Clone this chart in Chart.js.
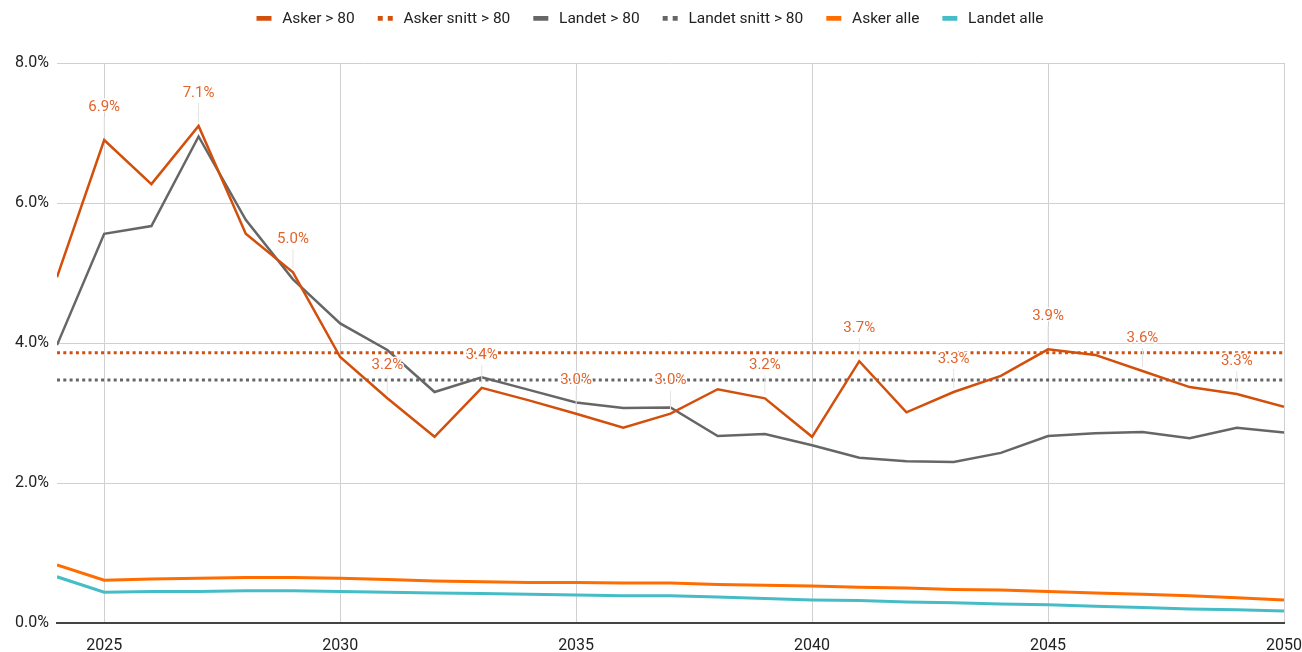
<!DOCTYPE html>
<html>
<head>
<meta charset="utf-8">
<title>Asker &gt; 80</title>
<script src="https://cdn.jsdelivr.net/npm/chart.js@4.4.1/dist/chart.umd.min.js"></script>
<style>
  html, body { margin: 0; padding: 0; background: #fff; }
</style>
</head>
<body>
<canvas id="chart" width="1302" height="652"></canvas>
<script>
// --- DATA (percent) ---
const years = [2024, 2025, 2026, 2027, 2028, 2029, 2030, 2031, 2032, 2033, 2034, 2035, 2036, 2037,
    2038, 2039, 2040, 2041, 2042, 2043, 2044, 2045, 2046, 2047, 2048, 2049, 2050];
const askerOver80 = [4.94, 6.90, 6.27, 7.10, 5.56, 5.01, 3.80, 3.21, 2.66, 3.36, 3.18, 2.99, 2.79, 2.99,
    3.34, 3.21, 2.66, 3.74, 3.01, 3.30, 3.53, 3.91, 3.83, 3.60, 3.37, 3.27, 3.09];
const landetOver80 = [3.97, 5.56, 5.67, 6.95, 5.76, 4.91, 4.28, 3.90, 3.30, 3.51, 3.33, 3.15, 3.07, 3.08,
    2.67, 2.70, 2.54, 2.36, 2.31, 2.30, 2.43, 2.67, 2.71, 2.73, 2.64, 2.79, 2.72];
const askerAlle = [0.83, 0.61, 0.63, 0.64, 0.65, 0.65, 0.64, 0.62, 0.60, 0.59, 0.58, 0.58, 0.57, 0.57,
    0.55, 0.54, 0.53, 0.51, 0.50, 0.48, 0.47, 0.45, 0.43, 0.41, 0.39, 0.36, 0.33];
const landetAlle = [0.66, 0.44, 0.45, 0.45, 0.46, 0.46, 0.45, 0.44, 0.43, 0.42, 0.41, 0.40, 0.39, 0.39,
    0.37, 0.35, 0.33, 0.32, 0.30, 0.29, 0.27, 0.26, 0.24, 0.22, 0.20, 0.19, 0.17];
// Averages over the whole period, drawn as flat dotted lines.
const askerSnitt = 3.86;
const landetSnitt = 3.47;
// Years that carry a value label on the Asker > 80 line.
const labelYears = [2025, 2027, 2029, 2031, 2033, 2035, 2037, 2039, 2041, 2043, 2045, 2047, 2049];
const xTicks = [2025, 2030, 2035, 2040, 2045, 2050];
const seriesNames = ['Asker > 80', 'Asker snitt > 80', 'Landet > 80', 'Landet snitt > 80', 'Asker alle', 'Landet alle'];

// --- STYLE ---
const FONT = 'Roboto';
const cAsker = '#d24f0c';
const cAskerLabel = '#e2642c';
const cLandet = '#666666';
const cAskerAlle = '#ff6d01';
const cLandetAlle = '#46bdc6';

const toPoints = (vals) => years.map((yr, i) => ({ x: yr, y: vals[i] }));
const flatLine = (v) => [{ x: years[0], y: v }, { x: years[years.length - 1], y: v }];

// Legend markers: a short bar for solid lines, two small squares for dotted ones.
// The canvas is wider than the marker so the gap before each item matches the reference.
function legendIcon(color, dotted) {
    const c = document.createElement('canvas');
    c.width = 30; c.height = 6;
    const g = c.getContext('2d');
    g.fillStyle = color;
    if (dotted) {
        g.fillRect(12, 0, 5, 5);
        g.fillRect(22, 0, 5, 5);
    } else {
        g.fillRect(12, 0, 15, 5);
    }
    return c;
}
const legendIcons = [
    legendIcon(cAsker, false),
    legendIcon(cAsker, true),
    legendIcon(cLandet, false),
    legendIcon(cLandet, true),
    legendIcon(cAskerAlle, false),
    legendIcon(cLandetAlle, false),
];

// Value labels above every other point of the Asker > 80 line.
const pointLabels = {
    id: 'pointLabels',
    afterDatasetsDraw(chart) {
        const meta = chart.getDatasetMeta(0);
        const ctx = chart.ctx;
        ctx.save();
        ctx.font = '15px ' + FONT;
        ctx.textAlign = 'center';
        ctx.textBaseline = 'middle';
        years.forEach((yr, i) => {
            if (!labelYears.includes(yr)) return;
            const pt = meta.data[i];
            const ly = pt.y - 33;
            ctx.strokeStyle = '#e4e4e4';
            ctx.lineWidth = 1;
            ctx.beginPath();
            ctx.moveTo(pt.x, ly + 10);
            ctx.lineTo(pt.x, pt.y - 4);
            ctx.stroke();
            const txt = askerOver80[i].toFixed(1) + '%';
            ctx.lineWidth = 3;
            ctx.strokeStyle = '#ffffff';
            ctx.strokeText(txt, pt.x, ly);
            ctx.fillStyle = cAskerLabel;
            ctx.fillText(txt, pt.x, ly);
        });
        ctx.restore();
    }
};

// Pin the legend band height so the plot starts where the reference does,
// and nudge the centred row left to make up for the blank lead-in of the first icon.
const legendHeight = {
    id: 'legendHeight',
    beforeLayout(chart) {
        const legend = chart.legend;
        if (!legend || legend._pinned) return;
        const fit = legend.fit.bind(legend);
        legend.fit = function () {
            fit();
            this.height = 63;
            if (this.lineWidths && this.lineWidths.length) this.lineWidths[0] += 14;
        };
        legend._pinned = true;
    }
};

const lineBase = { pointRadius: 0, pointHoverRadius: 0, tension: 0, fill: false };

new Chart(document.getElementById('chart'), {
    type: 'line',
    data: {
        datasets: [
            { ...lineBase, label: seriesNames[0], data: toPoints(askerOver80), borderColor: cAsker, backgroundColor: cAsker, borderWidth: 2.5 },
            { ...lineBase, label: seriesNames[1], data: flatLine(askerSnitt), borderColor: cAsker, backgroundColor: cAsker, borderWidth: 3, borderDash: [3, 3.3] },
            { ...lineBase, label: seriesNames[2], data: toPoints(landetOver80), borderColor: cLandet, backgroundColor: cLandet, borderWidth: 2.5 },
            { ...lineBase, label: seriesNames[3], data: flatLine(landetSnitt), borderColor: cLandet, backgroundColor: cLandet, borderWidth: 3, borderDash: [3, 3.3] },
            { ...lineBase, label: seriesNames[4], data: toPoints(askerAlle), borderColor: cAskerAlle, backgroundColor: cAskerAlle, borderWidth: 3 },
            { ...lineBase, label: seriesNames[5], data: toPoints(landetAlle), borderColor: cLandetAlle, backgroundColor: cLandetAlle, borderWidth: 3 },
        ],
    },
    options: {
        responsive: false,
        animation: false,
        layout: { padding: { left: 0, right: 0, top: 0, bottom: 0 } },
        plugins: {
            tooltip: { enabled: false },
            legend: {
                position: 'top',
                align: 'center',
                labels: {
                    usePointStyle: true,
                    pointStyleWidth: 30,
                    padding: 11,
                    color: '#222222',
                    font: { family: FONT, size: 15.5 },
                    generateLabels(chart) {
                        const items = Chart.defaults.plugins.legend.labels.generateLabels(chart);
                        items.forEach((it, i) => { it.pointStyle = legendIcons[i]; });
                        return items;
                    }
                }
            }
        },
        scales: {
            x: {
                type: 'linear',
                min: years[0],
                max: years[years.length - 1],
                afterBuildTicks: (scale) => { scale.ticks = xTicks.map(v => ({ value: v })); },
                // fixed band height; right overhang only as wide as half the "2050" label
                afterFit: (scale) => { scale.height = 29; scale.paddingRight = 18; },
                ticks: {
                    color: '#222222',
                    font: { family: FONT, size: 16 },
                    padding: 13,
                    maxRotation: 0,
                    autoSkip: false,
                    callback: (v) => String(v),
                },
                grid: { color: '#d0d0d0', lineWidth: 1, drawTicks: false },
                border: { display: true, color: '#444444', width: 2 },
            },
            y: {
                min: 0,
                max: 8,
                afterFit: (scale) => { scale.width = 57; },
                ticks: {
                    stepSize: 2,
                    color: '#222222',
                    font: { family: FONT, size: 16 },
                    padding: 8,
                    callback: (v) => v.toFixed(1) + '%',
                },
                grid: {
                    color: (c) => (c.tick && c.tick.value === 0 ? 'rgba(0,0,0,0)' : '#d0d0d0'),
                    lineWidth: 1,
                    drawTicks: false,
                },
                border: { display: false },
            },
        },
    },
    plugins: [pointLabels, legendHeight],
});
</script>
</body>
</html>
